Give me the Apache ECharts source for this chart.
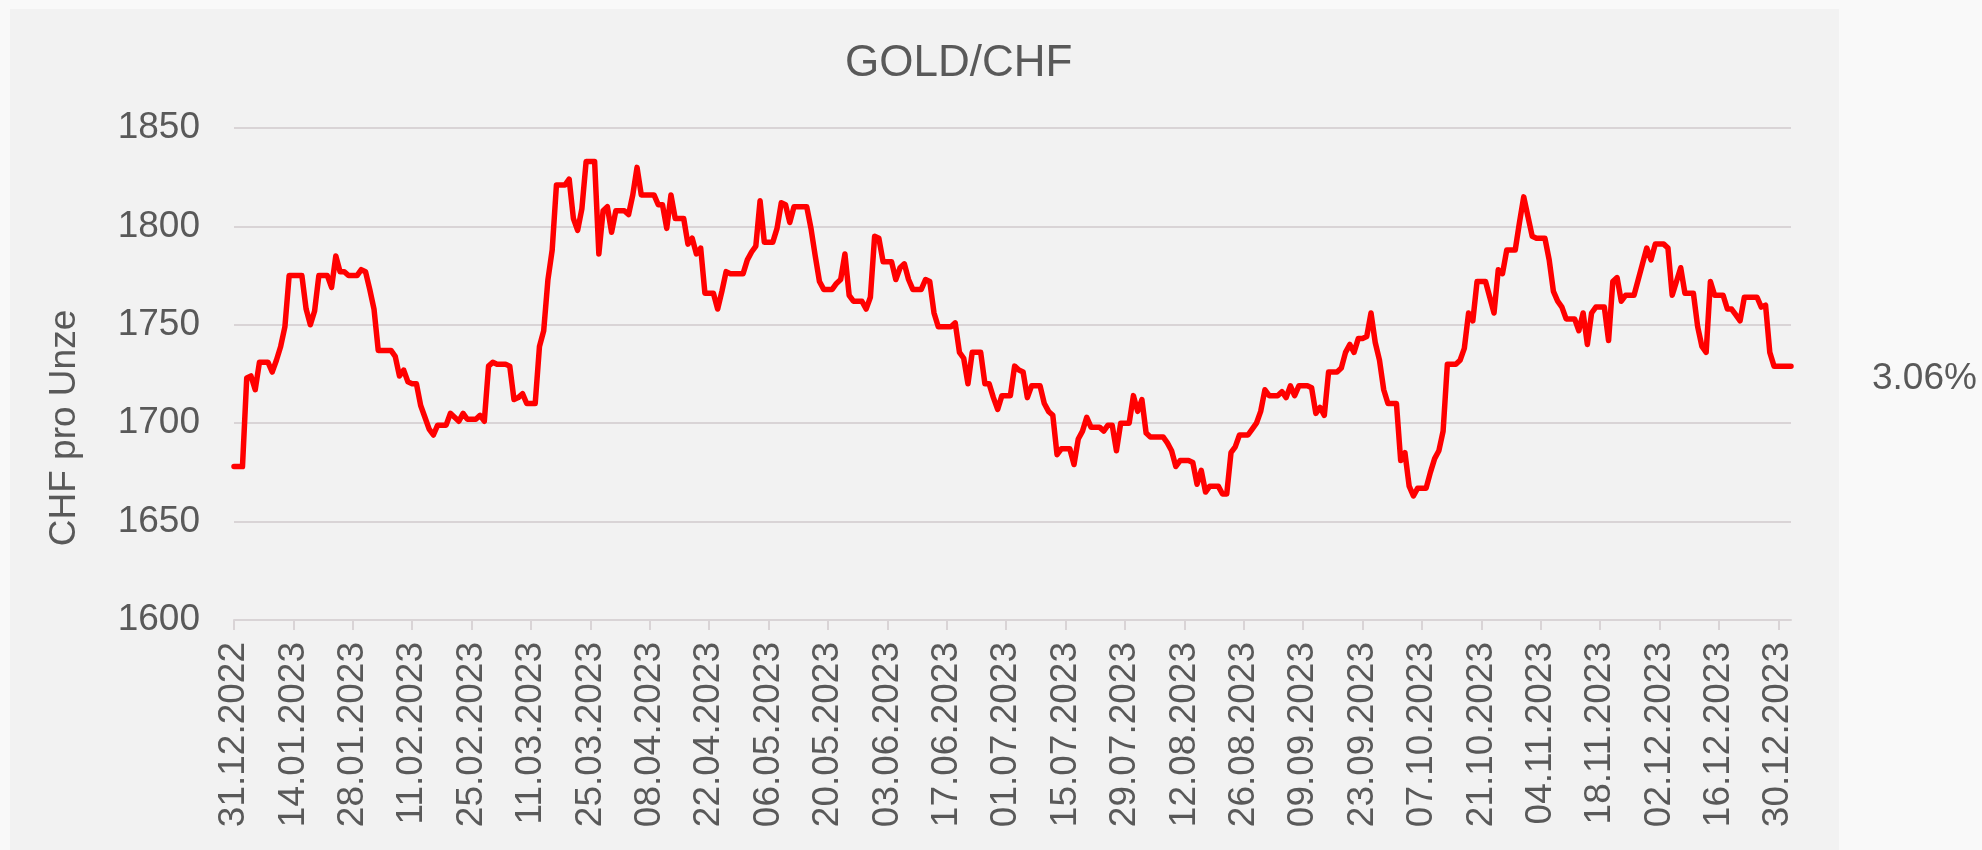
<!DOCTYPE html>
<html>
<head>
    <meta charset="utf-8" />
    <title>GOLD/CHF</title>
    <script src="https://cdn.jsdelivr.net/npm/echarts@6/dist/echarts.min.js"></script>
    <style>
        html, body { margin: 0; padding: 0; background: #f9f9f9; }
        #content { width: 1982px; height: 850px; }
    </style>
</head>
<body>
    <div id="content"></div>
    <script type="text/javascript">
        // CHF pro Unze, täglich (Wochenende = Wert vom Freitag)
        var priceQ1 = [
            1678, 1678, 1678, 1723, 1724, 1717, 1731, 1731, 1731, 1726,
            1732, 1739, 1749, 1775, 1775, 1775, 1775, 1758, 1750, 1757,
            1775, 1775, 1775, 1769, 1785, 1777, 1777, 1775, 1775, 1775,
            1778, 1777, 1768, 1758, 1737, 1737, 1737, 1737, 1734, 1724,
            1727, 1721, 1720, 1720, 1709, 1703, 1697, 1694, 1699, 1699,
            1699, 1705, 1703, 1701, 1705, 1702, 1702, 1702, 1704, 1701,
            1729, 1731, 1730, 1730, 1730, 1729, 1712, 1713, 1715, 1710,
            1710, 1710, 1739, 1747, 1773, 1788, 1821, 1821, 1821, 1824,
            1804, 1798, 1809, 1833, 1833, 1833, 1786, 1808, 1810, 1797,
            1808
        ];
        var priceQ2 = [
            1808, 1808, 1806, 1816, 1830, 1816, 1816, 1816, 1816, 1811,
            1811, 1799, 1816, 1804, 1804, 1804, 1791, 1794, 1786, 1789,
            1766, 1766, 1766, 1758, 1767, 1777, 1776, 1776, 1776, 1776,
            1783, 1787, 1790, 1813, 1792, 1792, 1792, 1799, 1812, 1811,
            1802, 1810, 1810, 1810, 1810, 1799, 1785, 1772, 1768, 1768,
            1768, 1771, 1773, 1786, 1765, 1762, 1762, 1762, 1758, 1764,
            1795, 1794, 1782, 1782, 1782, 1773, 1779, 1781, 1773, 1768,
            1768, 1768, 1773, 1772, 1756, 1749, 1749, 1749, 1749, 1751,
            1736, 1733, 1720, 1736, 1736, 1736, 1720, 1720, 1713, 1707,
            1714
        ];
        var priceQ3 = [
            1714, 1714, 1729, 1727, 1726, 1713, 1719, 1719, 1719, 1710,
            1706, 1704, 1684, 1687, 1687, 1687, 1679, 1692, 1696, 1703,
            1698, 1698, 1698, 1696, 1699, 1699, 1686, 1700, 1700, 1700,
            1714, 1706, 1712, 1695, 1693, 1693, 1693, 1693, 1690, 1686,
            1678, 1681, 1681, 1681, 1680, 1669, 1676, 1665, 1668, 1668,
            1668, 1664, 1664, 1685, 1688, 1694, 1694, 1694, 1697, 1700,
            1706, 1717, 1714, 1714, 1714, 1716, 1713, 1719, 1714, 1719,
            1719, 1719, 1718, 1705, 1708, 1704, 1726, 1726, 1726, 1728,
            1736, 1740, 1736, 1743, 1743, 1744, 1756, 1741, 1732, 1717,
            1710, 1710
        ];
        var priceQ4 = [
            1710, 1681, 1685, 1668, 1663, 1667, 1667, 1667, 1675, 1682,
            1686, 1696, 1730, 1730, 1730, 1732, 1738, 1756, 1752, 1772,
            1772, 1772, 1764, 1756, 1778, 1776, 1788, 1788, 1788, 1802,
            1815, 1805, 1795, 1794, 1794, 1794, 1783, 1767, 1762, 1759,
            1753, 1753, 1753, 1747, 1756, 1740, 1756, 1759, 1759, 1759,
            1742, 1772, 1774, 1762, 1765, 1765, 1765, 1773, 1781, 1789,
            1783, 1791, 1791, 1791, 1789, 1765, 1772, 1779, 1766, 1766,
            1766, 1749, 1739, 1736, 1772, 1765, 1765, 1765, 1758, 1758,
            1755, 1752, 1764, 1764, 1764, 1764, 1759, 1760, 1736, 1729,
            1729, 1729, 1729, 1729
        ];
        var startDate = [2022, 11, 31];
        var yTicks = { min: 1600, max: 1850, step: 50 };
        var changeText = "3.06%";

        var prices = priceQ1.concat(priceQ2, priceQ3, priceQ4);

        function pad(n) { return n < 10 ? "0" + n : "" + n; }
        var dates = [];
        for (var i = 0; i < prices.length; i++) {
            var d = new Date(Date.UTC(startDate[0], startDate[1], startDate[2] + i));
            dates.push(pad(d.getUTCDate()) + "." + pad(d.getUTCMonth() + 1) + "." + d.getUTCFullYear());
        }

        var font = "'Liberation Sans', Arial, sans-serif";
        var textColor = "#595959";
        var gridColor = "#d9d4d6";

        var myChart = echarts.init(document.getElementById("content"));
        myChart.setOption({
            backgroundColor: "#f9f9f9",
            animation: false,
            title: {
                text: "GOLD/CHF",
                left: 845,
                top: 42,
                padding: 0,
                textStyle: { fontFamily: font, fontSize: 44, fontWeight: "normal", color: textColor }
            },
            graphic: [
                {
                    type: "rect",
                    z: -10,
                    shape: { x: 10, y: 9, width: 1829, height: 841 },
                    style: { fill: "#f2f2f2" }
                },
                {
                    type: "text",
                    x: 65,
                    y: 428,
                    rotation: Math.PI / 2,
                    style: {
                        text: "CHF pro Unze", fontFamily: font, fontSize: 37, fill: textColor,
                        align: "center", verticalAlign: "middle"
                    }
                },
                {
                    type: "text",
                    left: 1872,
                    top: 360,
                    style: { text: changeText, fontFamily: font, fontSize: 37, fill: textColor }
                }
            ],
            grid: { left: 234, right: 191, top: 128, bottom: 230 },
            xAxis: {
                type: "category",
                data: dates,
                boundaryGap: false,
                axisLine: { lineStyle: { color: gridColor, width: 2 } },
                axisTick: { interval: 13, length: 10, lineStyle: { color: gridColor, width: 2 } },
                axisLabel: {
                    interval: 13,
                    rotate: 90,
                    margin: 22,
                    fontFamily: font,
                    fontSize: 37,
                    color: textColor
                },
                splitLine: { show: false }
            },
            yAxis: {
                type: "value",
                min: yTicks.min,
                max: yTicks.max,
                interval: yTicks.step,
                axisLine: { show: false },
                axisTick: { show: false },
                axisLabel: {
                    margin: 34, fontFamily: font, fontSize: 37, color: textColor,
                    formatter: function (v) { return String(v); }
                },
                splitLine: { lineStyle: { color: gridColor, width: 2 } }
            },
            series: [{
                type: "line",
                data: prices,
                symbol: "none",
                lineStyle: { color: "#ff0000", width: 5.5, join: "round", cap: "round" }
            }]
        });
    </script>
</body>
</html>
